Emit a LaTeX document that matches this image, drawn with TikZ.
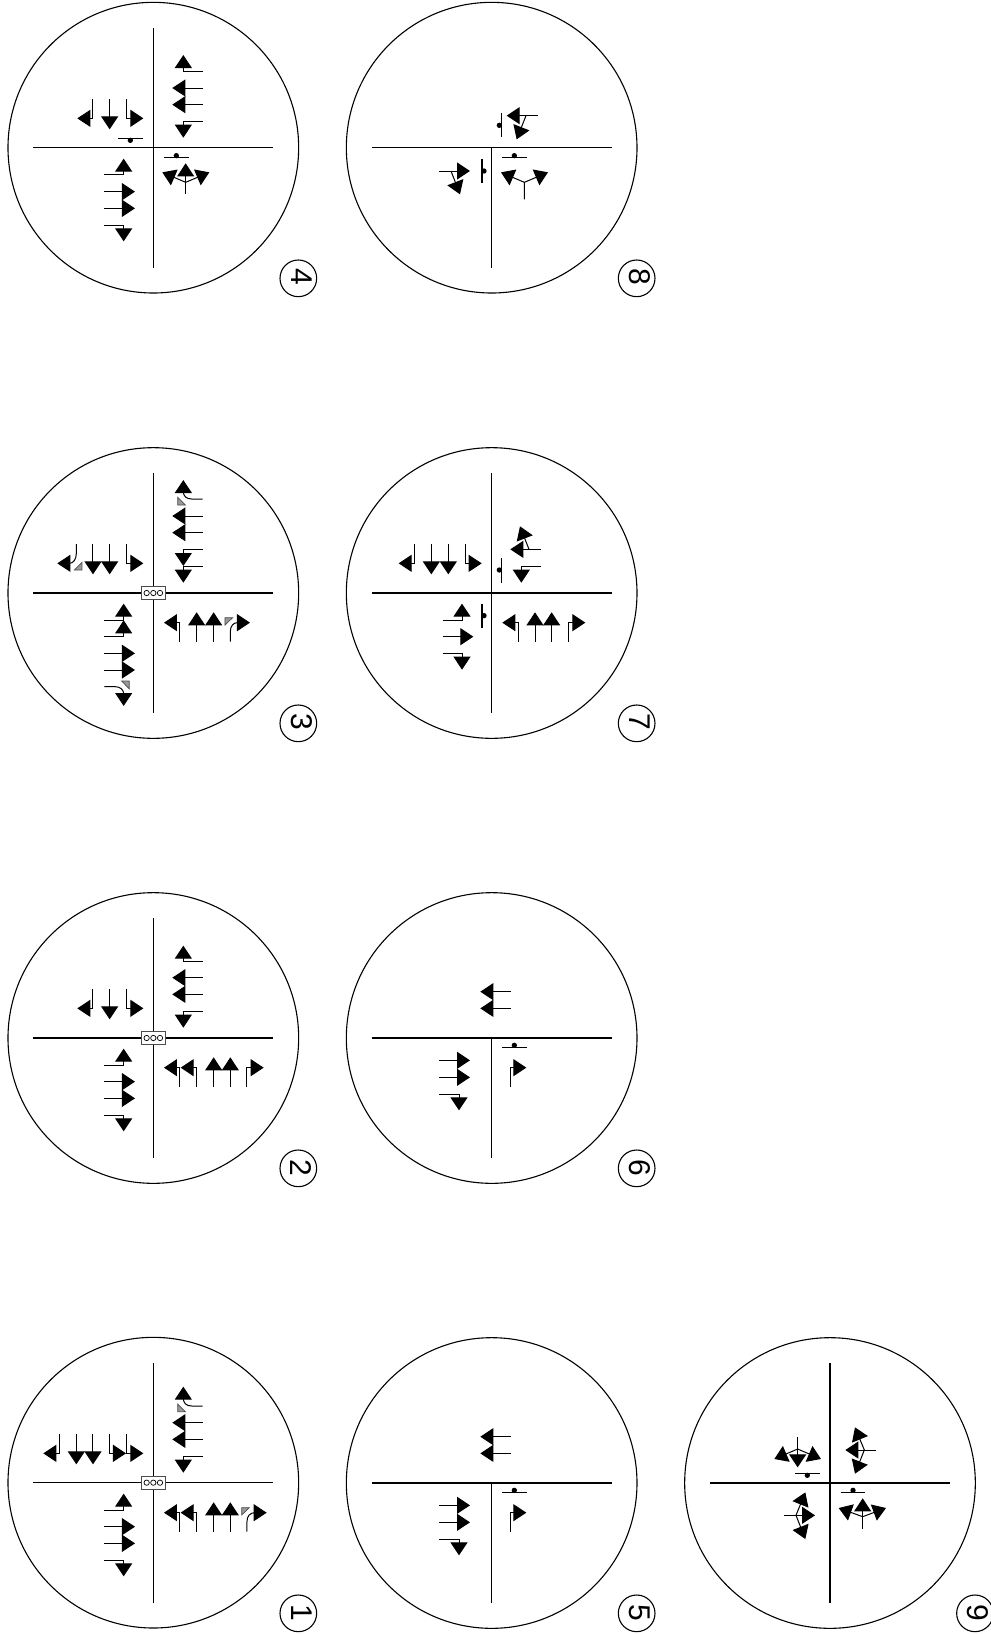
\documentclass[tikz,border=0pt]{standalone}
\usepackage{fontspec}
\setmainfont{Liberation Sans}
\usetikzlibrary{arrows.meta}
\tikzset{
  lane/.style={line width=1pt,draw=black,-{Triangle[length=13pt,width=17pt,fill=black]}},
  road/.style={line width=1.15pt,draw=black},
  stopbar/.style={line width=1.1pt,draw=black},
  disk/.style={line width=1.1pt,draw=black},
  island/.style={line width=0.7pt,draw=black!70,fill=black!40},
  signalbox/.style={line width=0.8pt,draw=black!70,fill=white},
  lamp/.style={line width=0.7pt,draw=black,fill=white},
  numberlabel/.style={rotate=-90,font=\fontsize{30}{30}\selectfont,inner sep=0pt}
}
% #1,#2 crop origin; #3,#4 centre; #5 digit; #6,#7 badge centre; #8 content
\newcommand{\panelx}[8]{%
\begin{scope}[shift={(#1pt,-#2pt)},x=0.33333pt,y=-0.33333pt]
  \draw[disk] (#3,#4) circle[radius=436];
  \draw[road] (#3-360,#4) -- (#3+360,#4);
  #8
  \draw[disk] (#6,#7) circle[radius=55];
  \node[numberlabel] (n#5) at (#6+9,#7-3) {#5};
\end{scope}}
\newcommand{\vfull}[2]{\draw[road] (#1,#2-360) -- (#1,#2+360);}
\newcommand{\vhalf}[2]{\draw[road] (#1,#2) -- (#1,#2+360);}
\newcommand{\sigbox}[2]{%
  \draw[signalbox] (#1-35,#2-19) rectangle (#1+36,#2+19);
  \draw[lamp] (#1-20,#2) circle[radius=8] (#1,#2) circle[radius=8] (#1+20,#2) circle[radius=8];}
\newcommand{\hstop}[2]{\draw[stopbar] (#1-37,#2) -- (#1+37,#2);}
\newcommand{\dotm}[2]{\fill (#1,#2) circle[radius=8];}
\newcommand{\laneway}[1]{\draw[lane] #1;}
\begin{document}
\begin{tikzpicture}[x=1pt,y=1pt]
\useasboundingbox (0,0) rectangle (991,-1634);
\fill[white] (0,0) rectangle (991,-1634);
% ---- 1
\panelx{0}{1330}{460}{458}{1}{895}{850}{%
 \vfull{460}{458}
 \laneway{(178,312)--(178,370)--(130,370)}
 \laneway{(229,312)--(229,403)}
 \laneway{(279,312)--(279,403)}
 \laneway{(329,312)--(329,370)--(378,370)}
 \laneway{(380,312)--(380,370)--(430,370)}
 \laneway{(608,228)--(575,228) .. controls (558,228) and (550,218) .. (550,205)--(550,170)}
 \draw[island] (533,222)--(556,245)--(533,245)--cycle;
 \laneway{(608,278)--(517,278)}
 \laneway{(608,328)--(517,328)}
 \laneway{(608,379)--(550,379)--(550,428)}
 \laneway{(313,540)--(371,540)--(371,491)}
 \laneway{(313,590)--(405,590)}
 \laneway{(313,640)--(405,640)}
 \laneway{(313,690)--(371,690)--(371,739)}
 \laneway{(540,605)--(540,548)--(492,548)}
 \laneway{(590,605)--(590,548)--(542,548)}
 \laneway{(641,605)--(641,517)}
 \laneway{(691,605)--(691,517)}
 \laneway{(741,605)--(741,575) .. controls (741,558) and (750,548) .. (765,548)--(800,548)}
 \draw[island] (725,533)--(748,533)--(725,555)--cycle;
 \sigbox{460}{458}
}
% ---- 2
\panelx{0}{885}{460}{459}{2}{895}{850}{%
 \vfull{460}{459}
 \laneway{(279,312)--(279,370)--(232,370)}
 \laneway{(329,312)--(329,403)}
 \laneway{(380,312)--(380,370)--(430,370)}
 \laneway{(608,228)--(550,228)--(550,182)}
 \laneway{(608,278)--(517,278)}
 \laneway{(608,328)--(517,328)}
 \laneway{(608,379)--(550,379)--(550,428)}
 \laneway{(313,540)--(371,540)--(371,491)}
 \laneway{(313,590)--(405,590)}
 \laneway{(313,640)--(405,640)}
 \laneway{(313,690)--(371,690)--(371,739)}
 \laneway{(540,605)--(540,548)--(492,548)}
 \laneway{(590,605)--(590,548)--(542,548)}
 \laneway{(641,605)--(641,517)}
 \laneway{(691,605)--(691,517)}
 \laneway{(741,605)--(741,548)--(791,548)}
 \sigbox{460}{459}
}
% ---- 3
\panelx{0}{440}{460}{459}{3}{895}{850}{%
 \vfull{460}{459}
 \laneway{(229,312)--(229,340) .. controls (229,358) and (220,370) .. (208,370)--(172,370)}
 \draw[island] (246,367)--(246,390)--(223,390)--cycle;
 \laneway{(279,312)--(279,403)}
 \laneway{(329,312)--(329,403)}
 \laneway{(380,312)--(380,370)--(430,370)}
 \laneway{(608,177)--(575,177) .. controls (558,177) and (550,167) .. (550,155)--(550,120)}
 \draw[island] (533,172)--(556,195)--(533,195)--cycle;
 \laneway{(608,228)--(517,228)}
 \laneway{(608,278)--(517,278)}
 \laneway{(608,328)--(550,328)--(550,378)}
 \laneway{(608,379)--(550,379)--(550,428)}
 \laneway{(313,540)--(371,540)--(371,491)}
 \laneway{(313,590)--(371,590)--(371,541)}
 \laneway{(313,640)--(405,640)}
 \laneway{(313,690)--(405,690)}
 \laneway{(313,740)--(345,740) .. controls (362,740) and (371,750) .. (371,762)--(371,798)}
 \draw[island] (365,723)--(388,723)--(388,747)--cycle;
 \laneway{(540,605)--(540,548)--(492,548)}
 \laneway{(590,605)--(590,517)}
 \laneway{(641,605)--(641,517)}
 \laneway{(691,605)--(691,575) .. controls (691,558) and (700,548) .. (712,548)--(750,548)}
 \draw[island] (675,533)--(698,533)--(675,555)--cycle;
 \sigbox{460}{459}
}
% ---- 4
\panelx{0}{0}{460}{443}{4}{895}{835}{%
 \vfull{460}{443}
 \laneway{(279,297)--(279,355)--(232,355)}
 \laneway{(329,297)--(329,388)}
 \laneway{(380,297)--(380,355)--(430,355)}
 \hstop{391}{415}\dotm{391}{421}
 \laneway{(608,213)--(550,213)--(550,165)}
 \laneway{(608,264)--(517,264)}
 \laneway{(608,314)--(517,314)}
 \laneway{(608,365)--(550,365)--(550,413)}
 \laneway{(313,524)--(371,524)--(371,476)}
 \laneway{(313,575)--(405,575)}
 \laneway{(313,625)--(405,625)}
 \laneway{(313,675)--(371,675)--(371,724)}
 \hstop{529}{473}\dotm{529}{467}
 \laneway{(557,582)--(557,490)}
 \laneway{(557,547)--(487,517)}
 \laneway{(557,547)--(628,517)}
}
% ---- 5
\panelx{340}{1330}{455}{459}{5}{890}{850}{%
 \vhalf{455}{459}
 \laneway{(512,320)--(421,320)}
 \laneway{(512,370)--(421,370)}
 \laneway{(298,526)--(390,526)}
 \laneway{(298,577)--(390,577)}
 \laneway{(298,627)--(357,627)--(357,676)}
 \hstop{524}{487}\dotm{523}{481}
 \laneway{(510,605)--(510,548)--(559,548)}
}
% ---- 6
\panelx{340}{885}{455}{459}{6}{890}{850}{%
 \vhalf{455}{459}
 \laneway{(512,320)--(421,320)}
 \laneway{(512,370)--(421,370)}
 \laneway{(298,526)--(390,526)}
 \laneway{(298,577)--(390,577)}
 \laneway{(298,627)--(357,627)--(357,676)}
 \hstop{524}{487}\dotm{523}{481}
 \laneway{(510,605)--(510,548)--(559,548)}
}
% ---- 7
\panelx{340}{440}{455}{459}{7}{890}{850}{%
 \vfull{455}{459}
 \laneway{(224,312)--(224,370)--(176,370)}
 \laneway{(274,312)--(274,403)}
 \laneway{(325,312)--(325,403)}
 \laneway{(375,312)--(375,370)--(425,370)}
 \draw[stopbar] (484,354)--(484,428); \dotm{478}{390}
 \laneway{(603,328)--(511,328)}
 \laneway{(567,328)--(540,259)}
 \laneway{(603,379)--(544,379)--(544,428)}
 \draw[stopbar] (426,491)--(426,565); \dotm{432}{527}
 \laneway{(308,540)--(366,540)--(366,491)}
 \laneway{(308,590)--(400,590)}
 \laneway{(308,640)--(366,640)--(366,689)}
 \laneway{(535,605)--(535,548)--(487,548)}
 \laneway{(585,605)--(585,517)}
 \laneway{(635,605)--(635,517)}
 \laneway{(686,605)--(686,548)--(736,548)}
}
% ---- 8
\panelx{340}{0}{455}{443}{8}{890}{835}{%
 \vhalf{455}{443}
 \hstop{524}{473}\dotm{523}{467}
 \laneway{(553,598)--(553,547)--(483,517)}
 \laneway{(553,547)--(624,517)}
 \draw[stopbar] (484,340)--(484,412); \dotm{478}{376}
 \laneway{(594,347)--(500,347)}
 \laneway{(558,347)--(530,418)}
 \draw[stopbar] (426,477)--(426,549); \dotm{432}{513}
 \laneway{(298,513)--(390,513)}
 \laneway{(333,513)--(360,583)}
}
% ---- 9
\panelx{671}{1330}{477}{459}{9}{912}{850}{%
 \vfull{477}{459}
 \laneway{(380,322)--(380,412)}
 \laneway{(380,357)--(310,387)}
 \laneway{(380,357)--(450,387)}
 \hstop{409}{430}\dotm{409}{436}
 \laneway{(616,360)--(523,360)}
 \laneway{(580,360)--(552,292)}
 \laneway{(580,360)--(552,431)}
 \laneway{(340,556)--(432,556)}
 \laneway{(375,556)--(403,487)}
 \laneway{(375,556)--(403,627)}
 \hstop{546}{487}\dotm{546}{481}
 \laneway{(575,596)--(575,505)}
 \laneway{(575,560)--(503,534)}
 \laneway{(575,560)--(645,534)}
}
\end{tikzpicture}
\end{document}
